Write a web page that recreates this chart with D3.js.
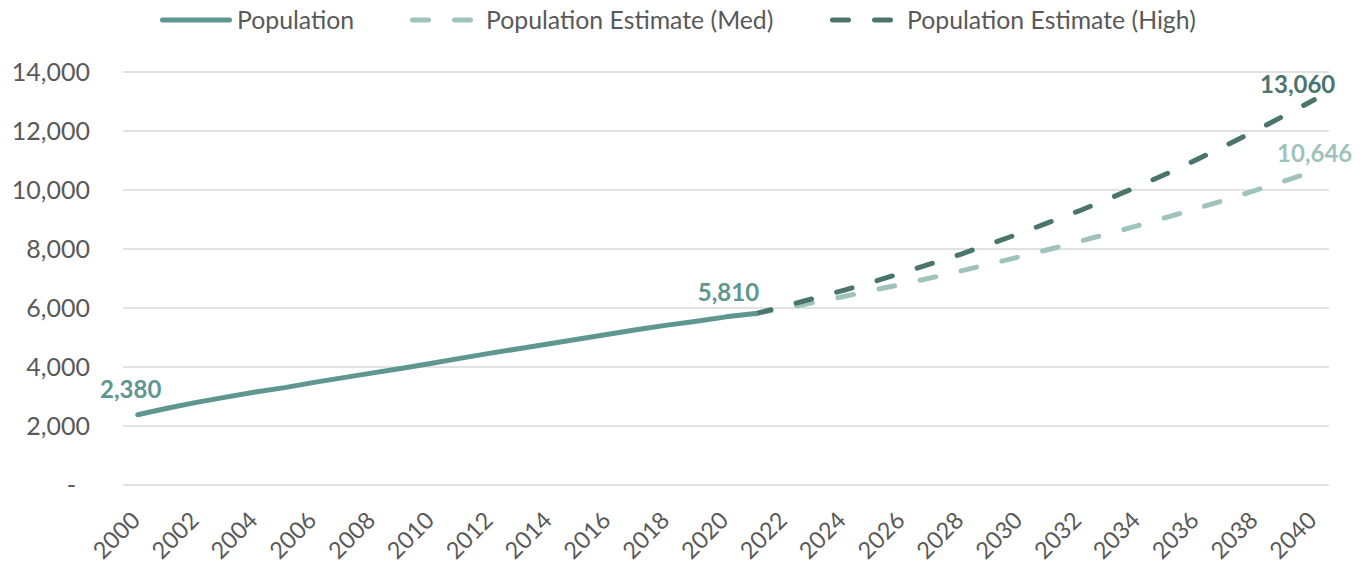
<!DOCTYPE html>
<html><head><meta charset="utf-8">
<script src="https://cdn.jsdelivr.net/npm/d3@7"></script>
<style>
html,body{margin:0;padding:0;background:#fff;}
svg text{font-family:"Lato","Open Sans",sans-serif;}
</style></head>
<body><svg id="c" width="1366" height="563"></svg>
<script>
const years = d3.range(2000, 2041).map(String);
const xTickLabels = years.filter((d, i) => i % 2 === 0);
const populationYears = years.slice(0, 22);
const population = [2380,2600,2800,2980,3150,3300,3480,3640,3800,3960,4130,4300,4470,4630,4790,4950,5110,5270,5420,5550,5700,5810];
const estimateYears = years.slice(21);
const estimateMed = [5810,6000,6190,6390,6600,6810,7030,7260,7500,7740,7990,8250,8520,8790,9080,9370,9670,9990,10310,10646];
const estimateHigh = [5810,6060,6330,6600,6890,7190,7510,7830,8180,8530,8910,9290,9700,10120,10560,11030,11510,12010,12530,13060];
const yTicks = [0,2000,4000,6000,8000,10000,12000,14000];
const seriesNames = ["Population","Population Estimate (Med)","Population Estimate (High)"];
const colors = {pop:"#5e9690", med:"#9ec3bd", high:"#4a756f"};

const svg = d3.select("#c");
const mLeft = 123, mRight = 1329, mTop = 72, mBottom = 485;
const x = d3.scaleBand().domain(years).range([mLeft, mRight]);
const y = d3.scaleLinear().domain([0, 14000]).range([mBottom, mTop]);
const cx = d => x(d) + x.bandwidth()/2;

// gridlines
svg.append("g").selectAll("line").data(yTicks).join("line")
  .attr("x1", mLeft).attr("x2", mRight)
  .attr("y1", d => y(d)).attr("y2", d => y(d))
  .attr("stroke", "#d9d9d9").attr("stroke-width", 1.5);

// y labels
svg.append("g").selectAll("text").data(yTicks).join("text")
  .attr("x", d => d === 0 ? 76 : 90).attr("y", d => y(d)).attr("dy", "0.35em")
  .attr("text-anchor", "end").attr("fill", "#595959").attr("font-size", 25)
  .text(d => d === 0 ? "-" : d3.format(",")(d));

// x labels
svg.append("g").selectAll("text").data(xTickLabels).join("text")
  .attr("transform", d => `translate(${cx(d)-2},${516}) rotate(-45)`)
  .attr("text-anchor", "end").attr("dy", "0.35em")
  .attr("fill", "#595959").attr("font-size", 23.5)
  .text(d => d);

const line = d3.line().x(d => cx(d[0])).y(d => y(d[1]));
const dash = "16 26";

svg.append("path").datum(d3.zip(estimateYears, estimateMed)).attr("d", line)
  .attr("fill", "none").attr("stroke", colors.med).attr("stroke-width", 5)
  .attr("stroke-dasharray", dash).attr("stroke-linecap", "round");
svg.append("path").datum(d3.zip(estimateYears, estimateHigh)).attr("d", line)
  .attr("fill", "none").attr("stroke", colors.high).attr("stroke-width", 5)
  .attr("stroke-dasharray", dash).attr("stroke-linecap", "round");
svg.append("path").datum(d3.zip(populationYears, population)).attr("d", line)
  .attr("fill", "none").attr("stroke", colors.pop).attr("stroke-width", 5)
  .attr("stroke-linecap", "round").attr("stroke-linejoin", "round");

// data labels
const lab = (t, xx, yy, anchor, col) => svg.append("text").attr("x", xx).attr("y", yy)
  .attr("text-anchor", anchor).attr("fill", col).attr("font-size", 24).attr("font-weight", "bold").text(t);
lab(d3.format(",")(population[0]), cx(years[0]) - 7, y(population[0]) - 17, "middle", colors.pop);
lab(d3.format(",")(population[21]), cx(years[21]) - 27, y(population[21]) - 13, "middle", colors.pop);
lab(d3.format(",")(estimateHigh[19]), cx(years[40]) + 21, y(estimateHigh[19]) - 7, "end", colors.high);
lab(d3.format(",")(estimateMed[19]), cx(years[40]) + 38, y(estimateMed[19]) - 9, "end", colors.med);

// legend
const leg = [
  {name: seriesNames[0], col: colors.pop, x1: 162.5, x2: 229.5, dash: null, tx: 237},
  {name: seriesNames[1], col: colors.med, x1: 412.5, x2: 470.5, dash: dash, tx: 486},
  {name: seriesNames[2], col: colors.high, x1: 832.5, x2: 890.5, dash: dash, tx: 907}
];
const lg = svg.append("g").selectAll("g").data(leg).join("g");
lg.append("line").attr("x1", d => d.x1).attr("x2", d => d.x2).attr("y1", 20).attr("y2", 20)
  .attr("stroke", d => d.col).attr("stroke-width", 5).attr("stroke-linecap", "round")
  .attr("stroke-dasharray", d => d.dash);
lg.append("text").attr("x", d => d.tx).attr("y", 20).attr("dy", "0.35em")
  .attr("fill", "#595959").attr("font-size", 24.8).text(d => d.name);
</script></body></html>
